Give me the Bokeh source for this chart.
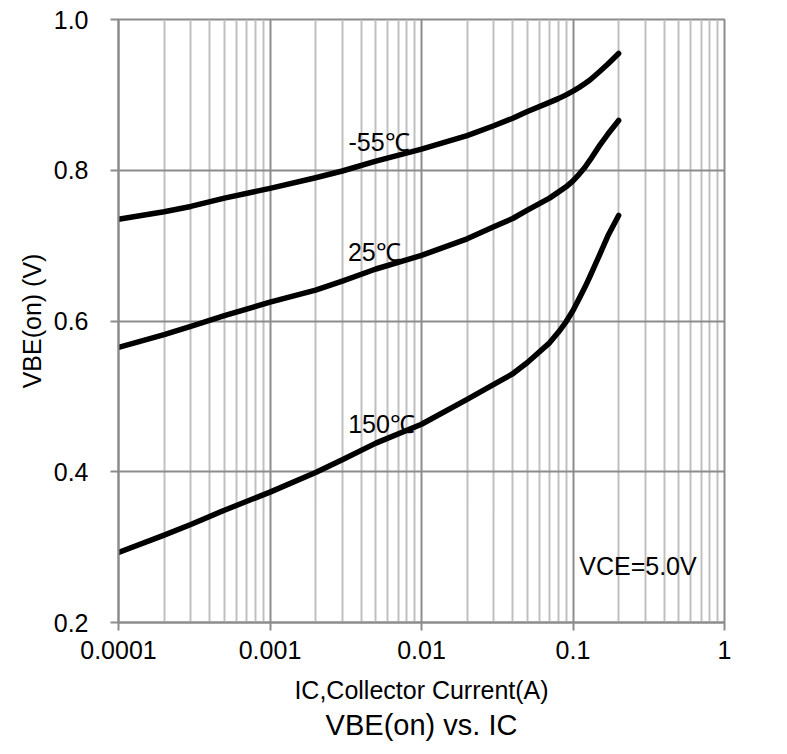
from bokeh.plotting import figure
from bokeh.models import FixedTicker, Label, Title, Range1d
from bokeh.embed import file_html
from bokeh.resources import INLINE

# ---- data ----
ic_a = [1e-4, 2e-4, 3e-4, 5e-4, 1e-3, 2e-3, 3e-3, 5e-3, 1e-2, 2e-2, 3e-2, 4e-2, 5e-2,
        7e-2, 8e-2, 9e-2, 0.1, 0.11, 0.12, 0.13, 0.15, 0.17, 0.2]
vbe_m55 = [0.735, 0.745, 0.752, 0.763, 0.776, 0.790, 0.799, 0.812, 0.828, 0.846, 0.859, 0.869, 0.878,
           0.890, 0.895, 0.900, 0.905, 0.910, 0.915, 0.920, 0.931, 0.941, 0.955]
vbe_25 = [0.565, 0.582, 0.593, 0.607, 0.625, 0.641, 0.653, 0.669, 0.687, 0.709, 0.725, 0.736, 0.747,
          0.763, 0.771, 0.778, 0.786, 0.795, 0.804, 0.814, 0.833, 0.848, 0.866]
vbe_150 = [0.293, 0.316, 0.330, 0.349, 0.373, 0.399, 0.416, 0.438, 0.463, 0.496, 0.516, 0.530, 0.545,
           0.571, 0.585, 0.599, 0.614, 0.630, 0.645, 0.660, 0.688, 0.713, 0.740]

x_ticks = [0.0001, 0.001, 0.01, 0.1, 1.0]
x_tick_labels = ["0.0001", "0.001", "0.01", "0.1", "1"]
x_minor = [m * d for d in [0.0001, 0.001, 0.01, 0.1] for m in [2, 3, 4, 5, 6, 7, 8, 9]]
y_ticks = [0.2, 0.4, 0.6, 0.8, 1.0]
y_tick_labels = ["0.2", "0.4", "0.6", "0.8", "1.0"]

curve_labels = ["-55℃", "25℃", "150℃"]
curve_label_x = [0.00524, 0.00488, 0.00545]
curve_label_y = [0.837, 0.6914, 0.4627]
note_text = "VCE=5.0V"
note_x, note_y = 0.2685, 0.2756

FONT = "Liberation Sans"
GRID_MAJOR = "#8c8c8c"
GRID_MINOR = "#c0c0c0"

p = figure(width=787, height=754, x_axis_type="log",
           x_range=Range1d(1e-4, 1.0), y_range=Range1d(0.2, 1.0),
           output_backend="svg", toolbar_location=None,
           min_border_left=118, min_border_right=63,
           min_border_top=19, min_border_bottom=132)
p.background_fill_color = "white"
p.border_fill_color = "white"
p.outline_line_color = GRID_MAJOR
p.outline_line_width = 2

for ys in [vbe_m55, vbe_25, vbe_150]:
    p.line(ic_a, ys, line_color="black", line_width=5.5, line_join="round", line_cap="round")

# axes
xt = FixedTicker(ticks=x_ticks, minor_ticks=x_minor)
yt = FixedTicker(ticks=y_ticks)
p.xaxis.ticker = xt
p.yaxis.ticker = yt
p.xaxis.major_label_overrides = {t: l for t, l in zip(x_ticks, x_tick_labels)}
p.yaxis.major_label_overrides = {t: l for t, l in zip(y_ticks, y_tick_labels)}
p.xgrid.ticker = xt
p.ygrid.ticker = yt

for ax in [p.xaxis[0], p.yaxis[0]]:
    ax.axis_line_color = GRID_MAJOR
    ax.axis_line_width = 2
    ax.major_tick_line_color = GRID_MAJOR
    ax.major_tick_line_width = 2
    ax.major_tick_in = 0
    ax.major_tick_out = 8
    ax.minor_tick_line_color = None
    ax.major_label_text_font = FONT
    ax.major_label_text_font_size = "25px"
    ax.major_label_text_color = "black"
    ax.axis_label_text_font = FONT
    ax.axis_label_text_font_size = "25px"
    ax.axis_label_text_font_style = "normal"
    ax.axis_label_text_color = "black"

p.xaxis.axis_label = "IC,Collector Current(A)"
p.yaxis.axis_label = "VBE(on) (V)"
p.xaxis.major_label_standoff = 10
p.yaxis.major_label_standoff = 22
p.xaxis.axis_label_standoff = 14
p.yaxis.axis_label_standoff = 5

p.xgrid.grid_line_color = GRID_MAJOR
p.xgrid.grid_line_width = 2
p.xgrid.minor_grid_line_color = GRID_MINOR
p.xgrid.minor_grid_line_width = 2
p.ygrid.grid_line_color = GRID_MAJOR
p.ygrid.grid_line_width = 2

for t, x, y in zip(curve_labels, curve_label_x, curve_label_y):
    p.add_layout(Label(x=x, y=y, text=t, text_align="center", text_baseline="alphabetic",
                       text_font=FONT, text_font_size="25px", text_color="black"))
p.add_layout(Label(x=note_x, y=note_y, text=note_text, text_align="center", text_baseline="alphabetic",
                   text_font=FONT, text_font_size="25px", text_color="black"))

title = Title(text="VBE(on) vs. IC", align="center", text_font=FONT, text_font_size="29px",
              text_font_style="normal", text_color="black", standoff=0)
p.add_layout(title, "below")

open("out.html", "w").write(file_html(p, INLINE))
